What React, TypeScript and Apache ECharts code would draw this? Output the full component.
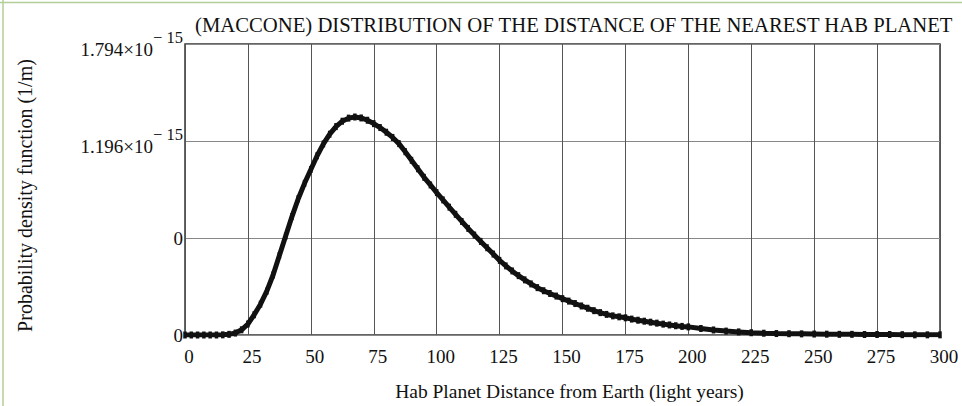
import React, { useEffect, useRef } from "react";
import * as echarts from "echarts";

// Distance from Earth (light years)
const distances = [
  0, 2.5, 5, 7.5, 10, 12.5, 15, 17.5, 20, 22.5, 25, 27.5, 30, 32.5, 35, 37.5, 40, 42.5, 45, 47.5,
  50, 52.5, 55, 57.5, 60, 62.5, 65, 67.5, 70, 72.5, 75, 77.5, 80, 82.5, 85, 87.5, 90, 92.5, 95, 97.5,
  100, 102.5, 105, 107.5, 110, 112.5, 115, 117.5, 120, 122.5, 125, 127.5, 130, 132.5, 135, 137.5,
  140, 142.5, 145, 147.5, 150, 152.5, 155, 157.5, 160, 162.5, 165, 167.5, 170, 172.5, 175, 177.5,
  180, 182.5, 185, 187.5, 190, 192.5, 195, 197.5, 200, 205, 210, 215, 220, 225, 230, 235, 240, 245,
  250, 255, 260, 265, 270, 275, 280, 285, 290, 295, 300,
];

// Probability density (units of 1e-15 1/m)
const density = [
  0, 0, 0, 0, 0, 0, 0.001, 0.004, 0.012, 0.032, 0.068, 0.125, 0.19, 0.27, 0.37, 0.49, 0.61, 0.73, 0.84, 0.935,
  1.02, 1.105, 1.178, 1.238, 1.285, 1.318, 1.337, 1.344, 1.338, 1.324, 1.303, 1.279, 1.25, 1.218, 1.18, 1.13, 1.077, 1.025, 0.972, 0.925,
  0.878, 0.833, 0.788, 0.744, 0.7, 0.657, 0.616, 0.577, 0.538, 0.499, 0.46, 0.426, 0.395, 0.366, 0.34, 0.315,
  0.292, 0.273, 0.256, 0.24, 0.224, 0.209, 0.194, 0.179, 0.165, 0.15, 0.138, 0.127, 0.118, 0.112, 0.106, 0.098,
  0.091, 0.085, 0.079, 0.073, 0.067, 0.062, 0.057, 0.053, 0.05, 0.04, 0.031, 0.024, 0.019, 0.014, 0.011, 0.009, 0.008, 0.007,
  0.006, 0.005, 0.004, 0.004, 0.003, 0.003, 0.003, 0.002, 0.001, 0.001, 0.001,
];

// Y tick labels as shown (bottom to top)
const yTickMain = ["0", "0", "1.196×10", "1.794×10"];
const yTickSup = ["", "", "− 15", "− 15"];

const titleText = "(MACCONE) DISTRIBUTION OF THE DISTANCE OF THE NEAREST HAB PLANET";
const xName = "Hab Planet Distance from Earth (light years)";
const yName = "Probability density function (1/m)";

const FONT = "'Liberation Serif', 'Times New Roman', serif";

export default function App() {
  const ref = useRef<HTMLDivElement>(null);
  useEffect(() => {
    if (!ref.current) return;
    const chart = echarts.init(ref.current, null, { renderer: "svg" });
    chart.setOption({
      animation: false,
      backgroundColor: "#ffffff",
      textStyle: { fontFamily: FONT },
      title: {
        text: titleText,
        left: 190,
        top: 9,
        textStyle: { fontFamily: FONT, fontSize: 20.7, fontWeight: "normal", color: "#111" },
      },
      graphic: [
        { type: "line", shape: { x1: 0, y1: 2.5, x2: 962, y2: 2.5 }, style: { stroke: "#b3cf98", lineWidth: 1.5 } },
        { type: "line", shape: { x1: 3, y1: 0, x2: 3, y2: 406 }, style: { stroke: "#b3cf98", lineWidth: 1.5 } },
      ],
      grid: {
        left: 185,
        right: 22,
        top: 44,
        bottom: 69.5,
        show: true,
        borderColor: "#333",
        borderWidth: 1.5,
      },
      xAxis: {
        type: "value",
        min: 0,
        max: 300,
        interval: 25,
        name: xName,
        nameLocation: "middle",
        nameGap: 46,
        nameTextStyle: { fontFamily: FONT, fontSize: 19.5, color: "#111", padding: [0, 0, 0, 14] },
        axisLine: { show: false },
        axisTick: { show: false },
        axisLabel: { fontFamily: FONT, fontSize: 19, color: "#111", margin: 12, padding: [0, 0, 0, 8] },
        splitLine: { show: true, lineStyle: { color: "#555", width: 1 } },
      },
      yAxis: {
        type: "value",
        min: 0,
        max: 1.794,
        interval: 0.598,
        name: yName,
        nameLocation: "middle",
        nameGap: 150,
        nameRotate: 90,
        nameTextStyle: { fontFamily: FONT, fontSize: 20, color: "#111", padding: [0, 12, 0, 0] },
        axisLine: { show: false },
        axisTick: { show: false },
        axisLabel: {
          margin: 2,
          fontFamily: FONT,
          fontSize: 19,
          color: "#111",
          formatter: (_v: number, i: number) =>
            yTickSup[i] ? `{m|${yTickMain[i]}}{s|${yTickSup[i]}}` : `{m|${yTickMain[i]}}`,
          rich: {
            m: { fontFamily: FONT, fontSize: 19, color: "#111", verticalAlign: "bottom" },
            s: { fontFamily: FONT, fontSize: 16.5, color: "#111", padding: [0, 0, 13, 0], verticalAlign: "bottom" },
          },
        },
        splitLine: { show: true, lineStyle: { color: "#888", width: 1 } },
      },
      series: [
        {
          type: "line",
          data: distances.map((d, i) => [d, density[i]]),
          showSymbol: true,
          showAllSymbol: true,
          symbol: "rect",
          symbolSize: [3.5, 7],
          itemStyle: { color: "#111" },
          lineStyle: { color: "#111", width: 5 },
        },
      ],
    });
    return () => chart.dispose();
  }, []);
  return <div ref={ref} style={{ width: 962, height: 406, position: "absolute", left: 0, top: 0 }} />;
}
